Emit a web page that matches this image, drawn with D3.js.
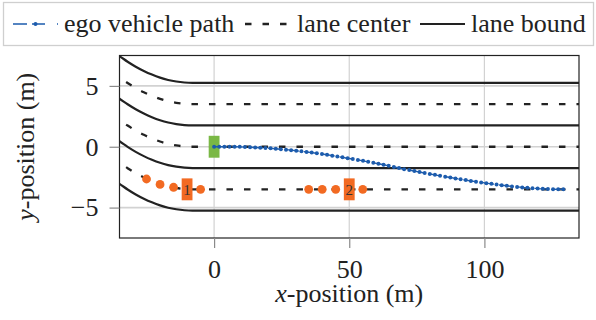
<!DOCTYPE html>
<html>
<head>
<meta charset="utf-8">
<script src="https://cdn.jsdelivr.net/npm/d3@7"></script>
<style>
body{margin:0;background:#fff;}
svg{display:block;}
text{font-family:"Liberation Serif","Times New Roman",serif;fill:#222;}
</style>
</head>
<body>
<svg id="chart" width="596" height="320"></svg>
<script>
// axis ticks
var xTicks=[0,50,100];
var yTicks=[-5,0,5];

// road: lane bounds / centers (m) and the curved entry on the left
var laneBounds=[5.25,1.75,-1.75,-5.25];
var laneCenters=[3.5,0,-3.5];
var entryX=[-38,-35,-32,-29,-26,-23,-20,-17,-14,-11,-8,140];
var entryOffset=[2.6,2.2,1.74,1.33,0.98,0.68,0.43,0.24,0.11,0.03,0,0];

// ego vehicle path
var pathX=[0,1.9,3.8,5.7,7.6,9.5,11.4,13.3,15.2,17.1,19,20.9,22.8,24.7,26.6,28.5,30.4,32.3,34.2,36.1,
  38,39.9,41.8,43.7,45.6,47.5,49.4,51.3,53.2,55.1,57,58.9,60.8,62.7,64.6,66.5,68.4,70.3,72.2,74.1,
  76,77.9,79.8,81.7,83.6,85.5,87.4,89.3,91.2,93.1,95,96.9,98.8,100.7,102.6,104.5,106.4,108.3,110.2,112.1,
  114,115.9,117.8,119.7,121.6,123.5,125.4,127.3,129.2];
var pathY=[0,0,0,0,0,-0.01,-0.03,-0.04,-0.06,-0.08,-0.1,-0.13,-0.16,-0.2,-0.24,-0.28,-0.33,-0.38,-0.43,-0.48,
  -0.54,-0.6,-0.66,-0.73,-0.8,-0.87,-0.94,-1.01,-1.08,-1.16,-1.24,-1.32,-1.4,-1.48,-1.57,-1.66,-1.75,-1.84,-1.92,-2.0,
  -2.08,-2.16,-2.24,-2.31,-2.39,-2.46,-2.53,-2.6,-2.67,-2.74,-2.81,-2.87,-2.93,-2.99,-3.05,-3.1,-3.16,-3.21,-3.26,-3.3,
  -3.34,-3.38,-3.41,-3.44,-3.46,-3.48,-3.49,-3.5,-3.5];

// vehicles and predicted positions of the others
var vehicleX=[0,-10,50];
var vehicleY=[0,-3.5,-3.5];
var vehicleLabel=["","1","2"];
var predX=[-25,-20,-15,-5,35,40,45,55];
var predY=[-2.65,-3.1,-3.33,-3.5,-3.5,-3.5,-3.5,-3.5];

var carLength=4, carWidth=1.8;
var blue="#1d5cad", orange="#f26a22", green="#7ab845", ink="#222";

var svg=d3.select("#chart");
var margin={left:119.5,top:55.5,right:17,bottom:82};
var w=596-margin.left-margin.right, h=320-margin.top-margin.bottom;

var x=d3.scaleLinear().domain([-35,135]).range([0,w]);
var y=d3.scaleLinear().domain([-7.5,7.5]).range([h,0]);

var g=svg.append("g").attr("transform","translate("+margin.left+","+margin.top+")");

g.append("clipPath").attr("id","clip").append("rect").attr("width",w).attr("height",h);

// grid
g.selectAll(".gx").data(xTicks).enter().append("line")
  .attr("x1",function(d){return x(d);}).attr("x2",function(d){return x(d);})
  .attr("y1",0).attr("y2",h).attr("stroke","#d2d2d2").attr("stroke-width",1.2);
g.selectAll(".gy").data(yTicks).enter().append("line")
  .attr("y1",function(d){return y(d);}).attr("y2",function(d){return y(d);})
  .attr("x1",0).attr("x2",w).attr("stroke","#d2d2d2").attr("stroke-width",1.6);

var plot=g.append("g").attr("clip-path","url(#clip)");

function laneLine(base){
  return d3.line().curve(d3.curveMonotoneX)
    .x(function(d,i){return x(entryX[i]);})
    .y(function(d,i){return y(base+entryOffset[i]);})(entryX);
}

plot.selectAll(".center").data(laneCenters).enter().append("path")
  .attr("d",laneLine).attr("fill","none").attr("stroke",ink)
  .attr("stroke-width",2.3).attr("stroke-dasharray","6.5,11");
plot.selectAll(".bound").data(laneBounds).enter().append("path")
  .attr("d",laneLine).attr("fill","none").attr("stroke",ink).attr("stroke-width",2.2);

// predicted positions
plot.selectAll(".pred").data(predX).enter().append("circle")
  .attr("cx",function(d){return x(d);})
  .attr("cy",function(d,i){return y(predY[i]);})
  .attr("r",4.4).attr("fill",orange);

// vehicles
var car=plot.selectAll(".car").data(vehicleX).enter().append("g");
car.append("rect")
  .attr("x",function(d){return x(d-carLength/2);})
  .attr("y",function(d,i){return y(vehicleY[i]+carWidth/2);})
  .attr("width",x(carLength)-x(0))
  .attr("height",y(0)-y(carWidth))
  .attr("fill",function(d,i){return i==0 ? green : orange;});
car.append("text")
  .attr("x",function(d){return x(d);})
  .attr("y",function(d,i){return y(vehicleY[i]);})
  .attr("dy","0.35em").attr("text-anchor","middle")
  .style("font-size","15px").style("fill","#333")
  .text(function(d,i){return vehicleLabel[i];});

// ego path
var pathLine=d3.line().x(function(d,i){return x(pathX[i]);}).y(function(d,i){return y(pathY[i]);});
plot.append("path").attr("d",pathLine(pathX)).attr("fill","none")
  .attr("stroke",blue).attr("stroke-width",1.4).attr("stroke-dasharray","13,5");
plot.selectAll(".pp").data(pathX).enter().append("circle")
  .attr("cx",function(d){return x(d);})
  .attr("cy",function(d,i){return y(pathY[i]);})
  .attr("r",2).attr("fill",blue);

// frame
g.append("rect").attr("width",w).attr("height",h).attr("fill","none")
  .attr("stroke",ink).attr("stroke-width",1.2);

// axes
var xAxis=g.append("g").attr("transform","translate(0,"+h+")")
  .call(d3.axisBottom(x).tickValues(xTicks).tickSize(10).tickPadding(11.5));
var yAxis=g.append("g")
  .call(d3.axisLeft(y).tickValues(yTicks).tickSize(10).tickPadding(11));
[xAxis,yAxis].forEach(function(a){
  a.select(".domain").remove();
  a.selectAll(".tick line").attr("stroke","#8a8a8a").attr("stroke-width",1.2);
  a.selectAll(".tick text").style("font-size","26px").style("font-family","Liberation Serif").attr("fill","#222");
});

// axis titles
var xt=svg.append("text").attr("x",margin.left+w/2).attr("y",302)
  .attr("text-anchor","middle").style("font-size","26px");
xt.append("tspan").style("font-style","italic").text("x");
xt.append("tspan").text("-position (m)");

var yt=svg.append("text").attr("transform","translate(34,"+(margin.top+h/2)+") rotate(-90)")
  .attr("text-anchor","middle").style("font-size","26px");
yt.append("tspan").style("font-style","italic").text("y");
yt.append("tspan").text("-position (m)");

// legend
var leg=svg.append("g");
leg.append("rect").attr("x",3.5).attr("y",2.5).attr("width",590).attr("height",43)
  .attr("fill","#fff").attr("stroke","#cfcfcf").attr("stroke-width",1.3);
var ly=24;
leg.append("line").attr("x1",13).attr("x2",58).attr("y1",ly).attr("y2",ly)
  .attr("stroke",blue).attr("stroke-width",1.4).attr("stroke-dasharray","14,5,13,12");
leg.append("circle").attr("cx",35.5).attr("cy",ly).attr("r",2).attr("fill",blue);
leg.append("text").attr("x",64).attr("y",32).style("font-size","26px").text("ego vehicle path");
leg.append("line").attr("x1",245).attr("x2",290).attr("y1",ly).attr("y2",ly)
  .attr("stroke",ink).attr("stroke-width",2.3).attr("stroke-dasharray","6.5,11");
leg.append("text").attr("x",297).attr("y",32).style("font-size","26px").text("lane center");
leg.append("line").attr("x1",420).attr("x2",465).attr("y1",ly).attr("y2",ly)
  .attr("stroke",ink).attr("stroke-width",2.2);
leg.append("text").attr("x",471).attr("y",32).style("font-size","26px").text("lane bound");
</script>
</body>
</html>
